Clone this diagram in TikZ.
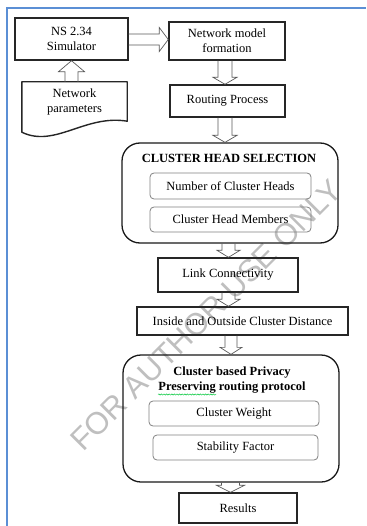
\documentclass[tikz,border=0pt]{standalone}
\usepackage{fontspec}
\setmainfont{Liberation Serif}
\newfontfamily\wmfont{Liberation Sans}
\usetikzlibrary{calc,decorations.pathmorphing}
\definecolor{frameblue}{HTML}{5B8FD5}

% hollow block arrow pointing down from #2 to #3 at horizontal position #1, shaft half width #4
\newcommand\downflow[4]{%
  \draw[hollow] let \p1=(#2.south), \p2=(#3.north) in
    ({#1pt-#4pt},\y1) -- ({#1pt-#4pt},\y2+7pt) -- ({#1pt-#4pt-5pt},\y2+7pt) --
    (#1pt,\y2) -- ({#1pt+#4pt+5pt},\y2+7pt) -- ({#1pt+#4pt},\y2+7pt) -- ({#1pt+#4pt},\y1);}

\begin{document}
\begin{tikzpicture}[x=1pt,y=-1pt,
  every node/.style={font=\fontsize{12.5}{15}\selectfont, align=center, inner sep=0pt},
  stepbox/.style={draw=black!85, line width=1.4pt},
  docline/.style={draw=black!85, line width=1.4pt, line join=round},
  groupbox/.style={draw=black!90, line width=1.3pt, rounded corners=18pt},
  itembox/.style={draw=black!50, line width=0.8pt, rounded corners=4pt},
  hollow/.style={draw=black!65, line width=0.7pt, line join=miter},
  grouptitle/.style={font=\fontsize{12.5}{15}\selectfont\bfseries},
]
\useasboundingbox (0,0) rectangle (366,526);

% page frame
\draw[frameblue, line width=1.5pt] (7,526) -- (7,8) -- (366,8);

% watermark
\node[font=\wmfont\fontsize{31}{31}\selectfont, text=black!25, rotate=45] (wm) at (206,315) {FOR AUTHOR USE ONLY};

% input side
\node[stepbox, minimum width=113pt, minimum height=42pt] (sim) at (71.5,39) {NS 2.34\\Simulator};
\node[minimum width=105pt, minimum height=39pt] (params) at (74.5,101.5) {Network\\parameters};
\draw[docline] (params.north west) -- (params.north east) -- (params.south east)
  .. controls ($(params.south east)+(-42,-7)$) and ($(params.south west)+(33,27)$)
  .. ($(params.south west)+(0,11)$) -- cycle;

% main flow
\node[stepbox, minimum width=116pt, minimum height=38pt] (model) at (227,41) {Network model\\formation};
\node[stepbox, minimum width=115pt, minimum height=32pt] (routing) at (227.5,101) {Routing Process};

\node[groupbox, minimum width=216pt, minimum height=100pt] (chs) at (230,193) {};
\node[grouptitle] (chstitle) at (229,158) {CLUSTER HEAD SELECTION};
\node[itembox, minimum width=161pt, minimum height=26pt] (nch) at (230.5,186) {Number of Cluster Heads};
\node[itembox, minimum width=161pt, minimum height=25pt] (chm) at (230.5,219.5) {Cluster Head Members};

\node[stepbox, minimum width=140pt, minimum height=34pt] (link) at (228,275) {Link Connectivity};
\node[stepbox, minimum width=211pt, minimum height=28pt] (inout) at (242.5,321) {Inside and Outside Cluster Distance};

\node[groupbox, minimum width=216pt, minimum height=127pt] (cbp) at (231,418.5) {};
\node[grouptitle] (cbptitle) at (232,380.5) {Cluster based Privacy\\Preserving routing protocol};
\draw[decorate, decoration={snake, amplitude=0.6pt, segment length=2.6pt}, green!55!teal, line width=0.5pt]
  (158,394.5) -- (216,394.5);
\node[itembox, minimum width=170pt, minimum height=25pt] (cw) at (234,413.5) {Cluster Weight};
\node[itembox, minimum width=165pt, minimum height=25pt] (sf) at (235.5,447.5) {Stability Factor};

\node[stepbox, minimum width=118pt, minimum height=30pt] (results) at (238,508) {Results};

% connectors
\draw[hollow] let \p1=(sim.east), \p2=(model.west) in
  (\x1,-34pt) -- (\x2-9pt,-34pt) -- (\x2-9pt,-27.5pt) -- (\x2,-39.5pt) --
  (\x2-9pt,-51.5pt) -- (\x2-9pt,-45pt) -- (\x1,-45pt);
\draw[hollow] let \p1=(params.north), \p2=(sim.south) in
  (65pt,\y1) -- (65pt,\y2-11pt) -- (58.5pt,\y2-11pt) -- (71.5pt,\y2) --
  (84.5pt,\y2-11pt) -- (78pt,\y2-11pt) -- (78pt,\y1);
\downflow{225}{model}{routing}{7}
\downflow{225}{routing}{chs}{7}
\downflow{228.5}{chs}{link}{6.5}
\downflow{228.5}{link}{inout}{6.5}
\downflow{231}{inout}{cbp}{6}
\downflow{230.5}{cbp}{results}{9}
\end{tikzpicture}
\end{document}
